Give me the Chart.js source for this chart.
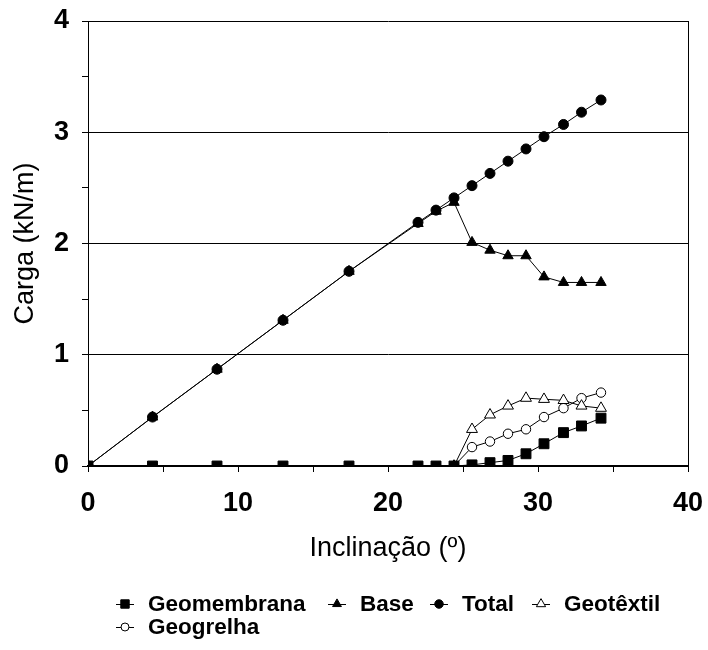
<!DOCTYPE html>
<html>
<head>
<meta charset="utf-8">
<script src="https://cdn.jsdelivr.net/npm/chart.js@4/dist/chart.umd.min.js"></script>
<style>
  html, body { margin: 0; padding: 0; background: #fff; }
  #wrap { width: 708px; height: 650px; }
</style>
</head>
<body>
<div id="wrap"><canvas id="cargaChart" width="708" height="650"></canvas></div>
<script>
// Inclination angles (deg)
const inclinacao = [0, 4.3, 8.6, 13.0, 17.4, 22.0, 23.2, 24.4, 25.6, 26.8, 28.0, 29.2, 30.4, 31.7, 32.9, 34.2];

// Load per component (kN/m)
const geomembrana = [0, 0, 0, 0, 0, 0, 0, 0, 0.01, 0.03, 0.05, 0.11, 0.20, 0.30, 0.36, 0.43];
const base = [0, 0.44, 0.87, 1.31, 1.75, 2.18, 2.29, 2.37, 2.01, 1.94, 1.89, 1.89, 1.70, 1.65, 1.65, 1.65];
const total = [0, 0.44, 0.87, 1.31, 1.75, 2.19, 2.30, 2.41, 2.52, 2.63, 2.74, 2.85, 2.96, 3.07, 3.18, 3.29];
const geotextil = [null, null, null, null, null, null, null, 0, 0.33, 0.46, 0.54, 0.61, 0.60, 0.59, 0.54, 0.52];
const geogrelha = [null, null, null, null, null, null, null, 0, 0.17, 0.22, 0.29, 0.33, 0.44, 0.52, 0.61, 0.66];

const xTicks = [0, 10, 20, 30, 40];
const yTicks = [0, 1, 2, 3, 4];

const FONT = '"Liberation Sans", Arial, Helvetica, sans-serif';

function toPoints(ys) {
    const pts = [];
    ys.forEach((y, i) => { if (y !== null) pts.push({ x: inclinacao[i], y: y }); });
    return pts;
}

function series(label, ys, style, radius, filled) {
    return {
        label: label,
        data: toPoints(ys),
        showLine: true,
        borderColor: '#000',
        borderWidth: 1,
        backgroundColor: '#000',
        pointStyle: style,
        pointRadius: radius,
        pointHoverRadius: radius,
        pointBackgroundColor: filled ? '#000' : '#fff',
        pointBorderColor: '#000',
        pointBorderWidth: 1
    };
}

// dataset 0 is drawn on top
const datasets = [
    series('Geomembrana', geomembrana, 'rect', 7, true),
    series('Total', total, 'circle', 5, true),
    series('Base', base, 'triangle', 6, true),
    series('Geotêxtil', geotextil, 'triangle', 6.3, false),
    series('Geogrelha', geogrelha, 'circle', 4.7, false)
];

// legend order and layout (icon centre positions)
const legendOrder = ['Geomembrana', 'Base', 'Total', 'Geotêxtil', 'Geogrelha'];
const legendPos = [[125, 604], [337, 604], [439, 604], [541, 604], [125, 627]];

const legendPlugin = {
    id: 'lineLegend',
    afterDraw(chart) {
        const ctx = chart.ctx;
        ctx.save();
        legendOrder.forEach((name, i) => {
            const ds = chart.data.datasets.find(d => d.label === name);
            const [cx, cy] = legendPos[i];
            ctx.strokeStyle = '#000';
            ctx.lineWidth = 1;
            ctx.beginPath();
            ctx.moveTo(cx - 9, cy + 0.5);
            ctx.lineTo(cx + 9, cy + 0.5);
            ctx.stroke();
            ctx.fillStyle = ds.pointBackgroundColor;
            ctx.strokeStyle = '#000';
            Chart.helpers.drawPoint(ctx, {
                pointStyle: ds.pointStyle,
                radius: ds.pointRadius * 0.85,
                rotation: 0,
                borderWidth: 1
            }, cx, cy);
            ctx.fillStyle = '#000';
            ctx.font = 'bold 22.5px ' + FONT;
            ctx.textAlign = 'left';
            ctx.textBaseline = 'middle';
            ctx.fillText(name, cx + 23, cy + 1);
        });
        ctx.restore();
    }
};

// fixed axis boxes so the plot area lands where the original one is
function fixX(s) {
    s.height = 99;
    s.paddingLeft = 0; s.paddingRight = 0;
}
function fixY(s) {
    s.width = 88;
    s.paddingTop = 0; s.paddingBottom = 0;
}

const ctx = document.getElementById('cargaChart').getContext('2d');
const cargaChart = new Chart(ctx, {
    type: 'scatter',
    data: { datasets: datasets },
    options: {
        responsive: false,
        animation: false,
        layout: { padding: { top: 21, right: 20, bottom: 85, left: 0 } },
        plugins: {
            legend: { display: false },
            tooltip: { enabled: false }
        },
        scales: {
            x: {
                type: 'linear',
                min: 0,
                max: 40,
                afterFit: fixX,
                border: { color: '#000', width: 2 },
                grid: {
                    color: c => (c.tick && c.tick.value === 40 ? '#000' : 'rgba(0,0,0,0)'),
                    tickColor: '#000',
                    tickLength: 6,
                    lineWidth: 1
                },
                ticks: {
                    stepSize: 5,
                    autoSkip: false,
                    maxRotation: 0,
                    padding: 15,
                    color: '#000',
                    font: { family: FONT, size: 27, weight: 'bold' },
                    callback: v => (xTicks.includes(v) ? String(v) : '')
                },
                title: {
                    display: true,
                    text: 'Inclinação (º)',
                    color: '#000',
                    padding: { top: 13, bottom: 0 },
                    font: { family: FONT, size: 27 }
                }
            },
            y: {
                type: 'linear',
                min: 0,
                max: 4,
                afterFit: fixY,
                border: { color: '#000', width: 1 },
                grid: {
                    color: c => (c.tick && yTicks.includes(c.tick.value) && c.tick.value > 0 ? '#000' : 'rgba(0,0,0,0)'),
                    tickColor: '#000',
                    tickLength: 6,
                    lineWidth: 1
                },
                ticks: {
                    stepSize: 0.5,
                    autoSkip: false,
                    padding: 13,
                    color: '#000',
                    font: { family: FONT, size: 27, weight: 'bold' },
                    callback: v => (yTicks.includes(v) ? String(v) : '')
                },
                title: {
                    display: true,
                    text: 'Carga (kN/m)',
                    color: '#000',
                    padding: { top: 9, bottom: 0 },
                    font: { family: FONT, size: 27 }
                }
            }
        }
    },
    plugins: [legendPlugin]
});
</script>
</body>
</html>
